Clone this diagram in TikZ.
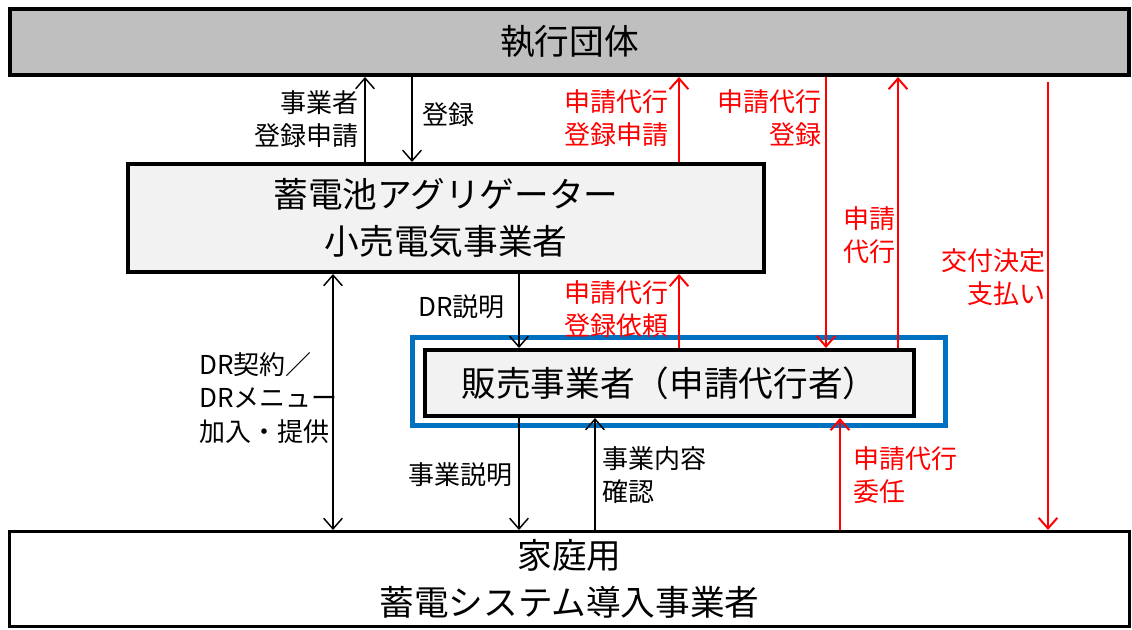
\documentclass[tikz,border=0pt]{standalone}
\usepackage{fontspec}
\setmainfont{Noto Sans CJK JP}
\usetikzlibrary{positioning, arrows.meta}
\definecolor{gris}{RGB}{191,191,191}
\definecolor{grisclair}{RGB}{242,242,242}
\definecolor{bleu}{RGB}{0,112,192}
\definecolor{rouge}{RGB}{255,0,0}

\begin{document}
\begin{tikzpicture}[x=0.75pt, y=-0.75pt, >={Straight Barb[length=8pt,width=14pt]},
    boite/.style={draw, line width=3pt, inner sep=0pt, align=center, font=\fontsize{26pt}{35pt}\selectfont},
    etiq/.style={inner sep=0pt, font=\fontsize{19.5pt}{25pt}\selectfont},
    fl/.style={->, line width=1.1pt},
    flr/.style={->, line width=1.5pt, rouge}]

\useasboundingbox (0,0) rectangle (1132,629);

% Boites
\node[boite, fill=gris, minimum width=839pt, minimum height=49.5pt] (exec) at (569.5,42) {執行団体};
\node[boite, fill=grisclair, minimum width=477pt, minimum height=81pt] (agg) at (446,218) {蓄電池アグリゲーター\\小売電気事業者};
\node[draw=bleu, line width=3.5pt, minimum width=400pt, minimum height=66pt] (cadre) at (679,381.5) {};
\node[boite, fill=grisclair, minimum width=367pt, minimum height=49.5pt] (vente) at (669.5,383) {販売事業者（申請代行者）};
\node[boite, line width=2.25pt, minimum width=840pt, minimum height=71.25pt] (foyer) at (569.5,579) {家庭用\\蓄電システム導入事業者};

% Abscisses des fleches
\coordinate (xa) at (333,0);
\coordinate (xb) at (365,0);
\coordinate (xc) at (412,0);
\coordinate (xd) at (519,0);
\coordinate (xe) at (595,0);
\coordinate (xf) at (679,0);
\coordinate (xg) at (826,0);
\coordinate (xh) at (840,0);
\coordinate (xi) at (898,0);
\coordinate (xj) at (1048,0);

% Fleches noires
\draw[fl] (agg.north -| xb) -- (exec.south -| xb);
\draw[fl] (exec.south -| xc) -- (agg.north -| xc);
\draw[fl, <->] (agg.south -| xa) -- (foyer.north -| xa);
\draw[fl] (agg.south -| xd) -- (vente.north -| xd);
\draw[fl] (vente.south -| xd) -- (foyer.north -| xd);
\draw[fl] (foyer.north -| xe) -- (vente.south -| xe);

% Fleches rouges
\draw[flr] (agg.north -| xf) -- (exec.south -| xf);
\draw[flr] (exec.south -| xg) -- (vente.north -| xg);
\draw[flr] (vente.north -| xi) -- (exec.south -| xi);
\draw[flr, shorten <=4pt] (exec.south -| xj) -- (foyer.north -| xj);
\draw[flr] (vente.north -| xf) -- (agg.south -| xf);
\draw[flr] (foyer.north -| xh) -- (vente.south -| xh);

% Etiquettes
\node[etiq, anchor=east, align=right] (l1) at (359,119) {事業者\\登録申請};
\node[etiq, anchor=west] (l2) at (422,115) {登録};
\node[etiq, anchor=east, align=right, text=rouge] (l3) at (669,118) {申請代行\\登録申請};
\node[etiq, anchor=east, align=right, text=rouge] (l4) at (822,118) {申請代行\\登録};
\node[etiq, anchor=east, align=right, text=rouge] (l5) at (896,235) {申請\\代行};
\node[etiq, anchor=east, align=right, text=rouge] (l6) at (1046,277) {交付決定\\支払い};
\node[etiq, anchor=east] (l7) at (505,307) {DR説明};
\node[etiq, anchor=east, align=right, text=rouge] (l8) at (669,309) {申請代行\\登録依頼};
\node[etiq, anchor=west, align=left] (l9) at (199,398) {DR契約／\\DRメニュー\\加入・提供};
\node[etiq, anchor=east] (l10) at (513,475) {事業説明};
\node[etiq, anchor=west, align=left] (l11) at (602,475) {事業内容\\確認};
\node[etiq, anchor=west, align=left, text=rouge] (l12) at (853,475) {申請代行\\委任};

\end{tikzpicture}
\end{document}
